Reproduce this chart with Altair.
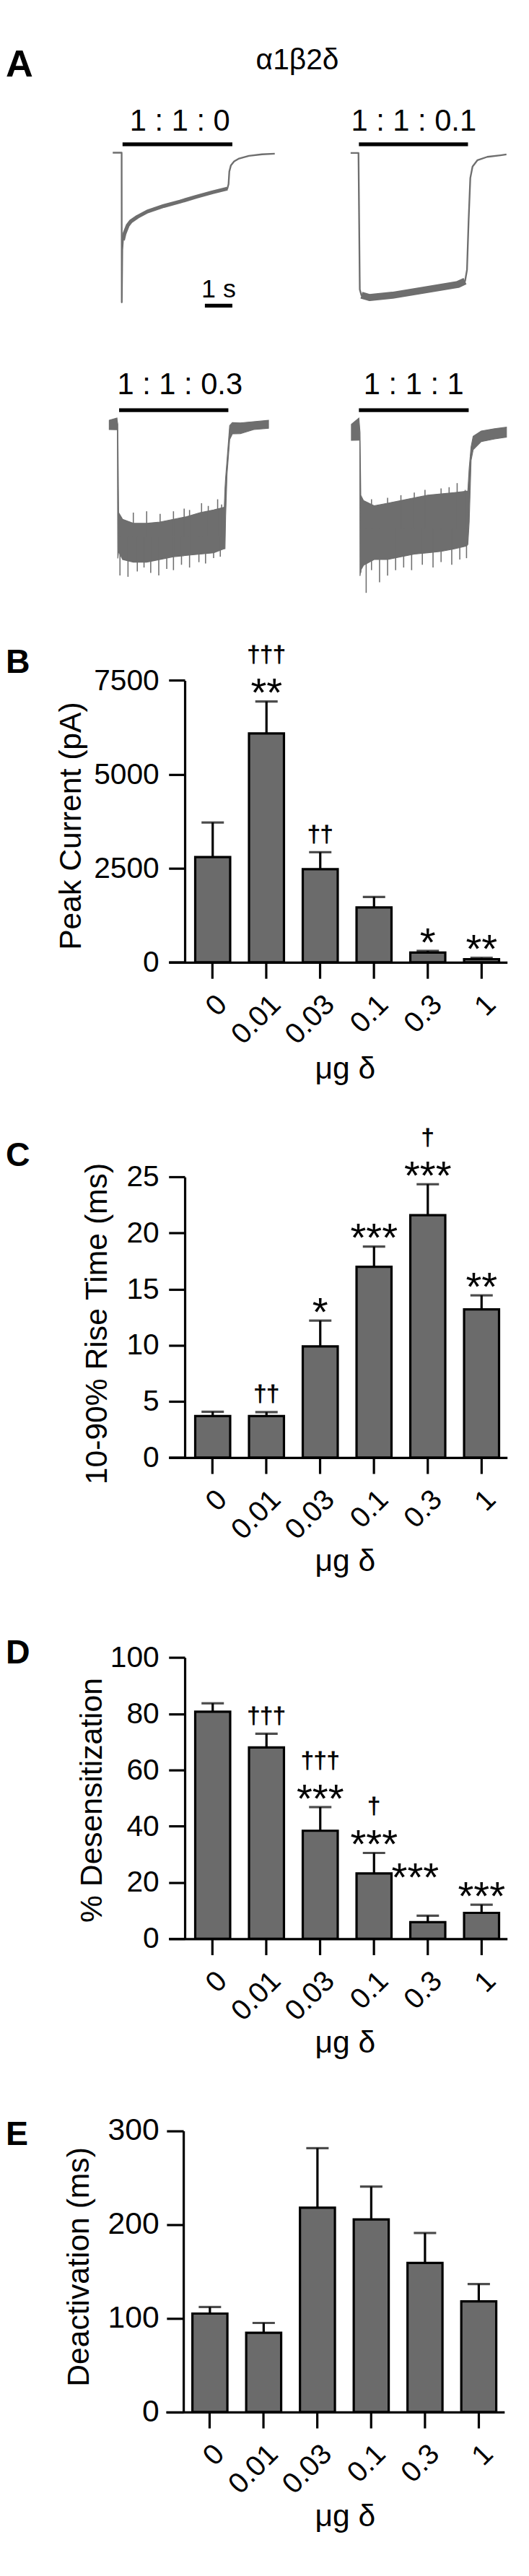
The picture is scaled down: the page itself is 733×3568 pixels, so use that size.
import altair as alt
import pandas as pd

FONT = "Liberation Sans"
BAR_GREY = "#6b6b6b"
TRACE_GREY = "#6e6e6e"
LW = 3.3

# ------------------------------------------------------------------ data
doses = ["0", "0.01", "0.03", "0.1", "0.3", "1"]

# B  peak current (pA)
peak_mean = [2800, 6090, 2480, 1460, 260, 85]
peak_sem = [920, 850, 450, 280, 45, 35]
peak_stars = ["", "**", "", "", "*", "**"]
peak_daggers = ["", "†††", "††", "", "", ""]

# C  10-90% rise time (ms)
rise_mean = [3.7, 3.7, 9.9, 17.0, 21.6, 13.2]
rise_sem = [0.38, 0.35, 2.3, 1.8, 2.75, 1.25]
rise_stars = ["", "", "*", "***", "***", "**"]
rise_daggers = ["", "††", "", "", "†", ""]

# D  % desensitization
desens_mean = [80.7, 68.0, 38.4, 23.2, 5.9, 9.2]
desens_sem = [3.0, 4.9, 8.4, 7.3, 2.3, 2.9]
desens_stars = ["", "", "***", "***", "***", "***"]
desens_daggers = ["", "†††", "†††", "†", "", ""]
desens_star_moved = [False, False, False, False, True, False]

# E  deactivation (ms)
deact_mean = [105, 84.5, 218, 205.5, 159, 118]
deact_sem = [7, 10.5, 63.5, 35, 32, 18.5]
deact_stars = ["", "", "", "", "", ""]
deact_daggers = ["", "", "", "", "", ""]

# A  example traces: time (s, from agonist onset), current normalised to peak
ratios = ["1 : 1 : 0", "1 : 1 : 0.1", "1 : 1 : 0.3", "1 : 1 : 1"]
app_on = [0.0, 0.0, 0.0, 0.0]
app_off = [4.0, 4.0, 4.0, 4.0]
scalebar_t = [3.0, 4.0]

tr1_t = [-0.357, -0.033, -0.028, -0.010, 0.015, 0.043, 0.069, 0.186, 0.306, 0.545, 0.902, 1.498,
         2.092, 2.688, 3.284, 3.819, 3.862, 3.890, 3.949, 4.066, 4.247, 4.604, 5.080, 5.546]
tr1_i = [0.0, 0.0, -1.0, -0.650, -0.584, -0.563, -0.541, -0.487, -0.458, -0.428, -0.393, -0.356,
         -0.327, -0.294, -0.264, -0.240, -0.210, -0.126, -0.084, -0.058, -0.039, -0.021, -0.011, -0.007]

tr2_t = [-0.303, -0.015, 0.033, 0.092, 0.392, 1.231, 2.431, 3.628, 3.892, 3.964, 4.023, 4.085,
         4.167, 4.349, 4.708, 5.187, 5.410]
tr2_i = [0.0, 0.0, -0.952, -0.992, -1.008, -0.992, -0.955, -0.917, -0.894, -0.815, -0.471, -0.175,
         -0.095, -0.050, -0.027, -0.016, -0.010]

tr3_t = [-0.361, -0.079, -0.064, -0.049, -0.018, 0.128, 0.520, 1.009, 1.501, 1.990, 2.481, 2.968,
         3.460, 3.851, 3.877, 3.900, 3.951, 4.049, 4.146, 4.440, 4.930, 5.470]
tr3_up = [0.032, 0.051, 0.018, 0.000, -0.744, -0.800, -0.834, -0.834, -0.823, -0.800, -0.778, -0.744,
          -0.722, -0.699, -0.541, -0.453, -0.306, -0.012, 0.012, 0.010, 0.021, 0.032]
tr3_lo = [-0.046, -0.047, -0.047, -1.129, -1.071, -1.138, -1.161, -1.161, -1.138, -1.115, -1.104, -1.093,
          -1.082, -1.048, -1.047, -0.776, -0.424, -0.129, -0.082, -0.080, -0.046, -0.035]
tr3_spike_t = [0.031, 0.325, 0.666, 0.912, 1.157, 1.452, 1.744, 1.990, 2.284, 2.579, 2.922, 3.165, 3.460, 3.705,
               0.520, 1.009, 1.501, 1.990, 2.382, 2.579, 3.019, 3.265, 3.608, 3.754]
tr3_spike_tip = [-1.273, -1.284, -1.239, -1.206, -1.251, -1.273, -1.217, -1.228, -1.183, -1.206, -1.161, -1.172,
                 -1.127, -1.115,
                 -0.744, -0.733, -0.755, -0.733, -0.711, -0.722, -0.665, -0.688, -0.632, -0.676]

tr4_t = [-0.273, 0.000, 0.031, 0.041, 0.069, 0.166, 0.555, 1.045, 1.531, 2.018, 2.507, 2.994, 3.480,
         3.921, 3.969, 4.018, 4.087, 4.163, 4.456, 4.943, 5.376]
tr4_up = [0.081, 0.142, 0.034, 0.000, -0.618, -0.671, -0.723, -0.697, -0.671, -0.644, -0.618, -0.605,
          -0.592, -0.579, -0.579, -0.354, -0.143, -0.037, 0.015, 0.037, 0.052]
tr4_lo = [-0.077, -0.076, -0.076, -1.414, -1.357, -1.310, -1.252, -1.252, -1.225, -1.199, -1.186, -1.172,
          -1.146, -1.119, -1.103, -0.882, -0.275, -0.170, -0.090, -0.064, -0.045]
tr4_spike_t = [0.069, 0.265, 0.459, 0.752, 1.045, 1.338, 1.631, 1.921, 2.311, 2.701, 2.994, 3.383, 3.676, 3.921,
               0.459, 1.045, 1.531, 2.018, 2.408, 2.994, 3.287, 3.580, 3.873]
tr4_spike_tip = [-1.383, -1.581, -1.357, -1.476, -1.410, -1.357, -1.331, -1.357, -1.304, -1.331, -1.278, -1.304,
                 -1.252, -1.239,
                 -0.658, -0.644, -0.618, -0.592, -0.566, -0.552, -0.539, -0.499, -0.566]


# ------------------------------------------------------------------ panel A
def qs(dom, rng):
    return alt.Scale(domain=dom, range=rng, nice=False, zero=False)


def app_bar(k, sx, ypx):
    d = pd.DataFrame({"t0": [app_on[k]], "t1": [app_off[k]]})
    return alt.Chart(d).mark_rule(color="black", strokeWidth=5.5).encode(
        x=alt.X("t0:Q", scale=sx, axis=None), x2="t1:Q", y=alt.value(ypx))


def ratio_label(k, xpx, ypx):
    d = pd.DataFrame({"lab": [ratios[k]]})
    return alt.Chart(d).mark_text(font=FONT, fontSize=43, align="center", baseline="alphabetic",
                                  color="black").encode(x=alt.value(xpx), y=alt.value(ypx), text="lab:N")


def smooth_trace(t, cur, b0, b1, bw, sx, sy):
    d = pd.DataFrame({"t": t, "i": cur})
    enc = dict(x=alt.X("t:Q", scale=sx, axis=None), y=alt.Y("i:Q", scale=sy, axis=None))
    thin = alt.Chart(d).mark_line(color=TRACE_GREY, strokeWidth=2.4, strokeJoin="round").encode(**enc)
    body = alt.Chart(d.iloc[b0:b1 + 1]).mark_line(color=TRACE_GREY, strokeWidth=bw,
                                                   strokeCap="butt", strokeJoin="round").encode(**enc)
    return [thin, body]


def noisy_trace(t, up, lo, sp_t, sp_tip, base_val, sx, sy):
    d = pd.DataFrame({"t": t, "up": up, "lo": lo})
    area = alt.Chart(d).mark_area(color=TRACE_GREY, stroke=TRACE_GREY, strokeWidth=1.2).encode(
        x=alt.X("t:Q", scale=sx, axis=None), y=alt.Y("up:Q", scale=sy, axis=None), y2="lo:Q")
    s = pd.DataFrame({"t": sp_t, "tip": sp_tip})
    spikes = alt.Chart(s).transform_calculate(base=str(base_val)).mark_rule(
        color=TRACE_GREY, strokeWidth=1.6).encode(
        x=alt.X("t:Q", scale=sx, axis=None), y=alt.Y("tip:Q", scale=sy, axis=None), y2="base:Q")
    return [area, spikes]


sx1 = qs([0, 4], [-89, 68]);     sy1 = qs([-1, 0], [366, 152])
sx2 = qs([0, 4], [249, 405]);    sy2 = qs([-1, 0], [357.4, 152.4])
sx3 = qs([0, 4], [-93.9, 62.3]); sy3 = qs([-1, 0], [710, 540])
sx4 = qs([0, 4], [249, 406]);    sy4 = qs([-1, 0], [697, 552])

sb = pd.DataFrame({"t0": [scalebar_t[0]], "t1": [scalebar_t[1]],
                   "tm": [(scalebar_t[0] + scalebar_t[1]) / 2], "lab": ["1 s"]})
scale_bar = alt.Chart(sb).mark_rule(color="black", strokeWidth=5.5).encode(
    x=alt.X("t0:Q", scale=sx1, axis=None), x2="t1:Q", y=alt.value(370.7))
scale_txt = alt.Chart(sb).mark_text(font=FONT, fontSize=37, align="center", baseline="alphabetic",
                                    color="black").encode(
    x=alt.X("tm:Q", scale=sx1, axis=None), y=alt.value(359), text="lab:N")

g1 = alt.layer(*smooth_trace(tr1_t, tr1_i, 4, 15, 5.5, sx1, sy1),
               app_bar(0, sx1, 140), ratio_label(0, -7, 120.6), scale_bar, scale_txt)
g2 = alt.layer(*smooth_trace(tr2_t, tr2_i, 3, 8, 10, sx2, sy2),
               app_bar(1, sx2, 140), ratio_label(1, 327.4, 120.6))
g3 = alt.layer(*noisy_trace(tr3_t, tr3_up, tr3_lo, tr3_spike_t, tr3_spike_tip, -0.95, sx3, sy3),
               app_bar(2, sx3, 520), ratio_label(2, -7, 497.5))
g4 = alt.layer(*noisy_trace(tr4_t, tr4_up, tr4_lo, tr4_spike_t, tr4_spike_tip, -0.95, sx4, sy4),
               app_bar(3, sx4, 520), ratio_label(3, 327.4, 497.5))

a_text = pd.DataFrame({"L": ["A"], "T": ["α1β2δ"]})
a_letter = alt.Chart(a_text).mark_text(font=FONT, fontSize=54, fontWeight="bold", align="left",
                                       baseline="top", color="black").encode(
    x=alt.value(-256), y=alt.value(0), text="L:N")
a_title = alt.Chart(a_text).mark_text(font=FONT, fontSize=42, align="center", baseline="top",
                                      color="black").encode(
    x=alt.value(161), y=alt.value(0), text="T:N")

panel_a = alt.layer(g1, g2, g3, g4, a_letter, a_title).resolve_scale(
    x="independent", y="independent").properties(width=465, height=792)


# ------------------------------------------------------------------ bar panels
def bar_panel(letter, letter_y, means, sems, stars, dags, moved, ticks, ymax, ytitle,
              H, ytop, ytx, yty, xty, xshift=0.0, yoff=0, ytick=23, ylabpad=14, ylabsize=42):
    df = pd.DataFrame({"dose": doses, "mean": means, "sem": sems, "stars": stars,
                       "dag": dags, "moved": moved})
    sx = alt.Scale(domain=doses, range=[-23 + xshift, 461 + xshift],
                   paddingInner=0.35, paddingOuter=0.322, align=0.766)
    sy = alt.Scale(domain=[0, ymax], range=[H, ytop], nice=False, zero=False)
    xax = alt.Axis(title="μg δ", labels=False,
                   tickSize=23, tickWidth=LW, tickColor="black",
                   domainWidth=LW, domainColor="black", grid=False,
                   titleFont=FONT, titleFontSize=44, titleFontWeight="normal", titleColor="black",
                   titleX=229, titleY=xty, titleAlign="center", titleBaseline="alphabetic", titleAngle=0)
    yax = alt.Axis(title=ytitle, values=ticks, format="d", labelFontSize=ylabsize, labelFont=FONT,
                   labelColor="black", labelPadding=ylabpad, labelOverlap=False,
                   tickSize=ytick, tickWidth=LW, tickColor="black",
                   domainWidth=LW, domainColor="black", grid=False, offset=yoff,
                   titleFont=FONT, titleFontSize=44, titleFontWeight="normal", titleColor="black",
                   titleX=ytx, titleY=yty, titleAngle=270, titleAlign="center",
                   titleBaseline="alphabetic")
    X = alt.X("dose:N", sort=doses, scale=sx, axis=xax)
    base = alt.Chart(df).transform_calculate(top="datum.mean + datum.sem")
    bars = base.mark_bar(size=50, fill=BAR_GREY, stroke="black", strokeWidth=LW).encode(
        x=X, y=alt.Y("mean:Q", scale=sy, axis=yax))
    err = base.mark_rule(color="black", strokeWidth=LW).encode(
        x=X, y=alt.Y("mean:Q", scale=sy, axis=yax), y2="top:Q")
    cap = base.mark_tick(color="black", size=32, thickness=LW).encode(
        x=X, y=alt.Y("top:Q", scale=sy, axis=yax))
    # rotated category labels under the ticks
    xlab = base.mark_text(font=FONT, fontSize=41, angle=315, align="right", baseline="top",
                          color="black").encode(x=X, y=alt.value(H + 40), text="dose:N")
    ytop_enc = alt.Y("top:Q", scale=sy, axis=yax)
    st = base.transform_filter("datum.stars != '' && !datum.moved").mark_text(
        font=FONT, fontSize=58, baseline="alphabetic", align="center", dy=7, color="black").encode(
        x=X, y=ytop_enc, text="stars:N")
    st_m = base.transform_filter("datum.moved").mark_text(
        font=FONT, fontSize=58, baseline="alphabetic", align="center", dx=-18, dy=-36,
        color="black").encode(x=X, y=ytop_enc, text="stars:N")
    dg_s = base.transform_filter("datum.dag != '' && datum.stars != ''").mark_text(
        font=FONT, fontSize=33, baseline="alphabetic", align="center", dy=-56, color="black",
        stroke="black", strokeWidth=0.8).encode(x=X, y=ytop_enc, text="dag:N")
    dg_n = base.transform_filter("datum.dag != '' && datum.stars == ''").mark_text(
        font=FONT, fontSize=33, baseline="alphabetic", align="center", dy=-15, color="black",
        stroke="black", strokeWidth=0.8).encode(x=X, y=ytop_enc, text="dag:N")
    let = alt.Chart(pd.DataFrame({"L": [letter]})).mark_text(
        font=FONT, fontSize=48, fontWeight="bold", align="left", baseline="alphabetic",
        color="black").encode(x=alt.value(-256), y=alt.value(letter_y), text="L:N")
    return alt.layer(bars, err, cap, xlab, st, st_m, dg_s, dg_n, let).properties(width=465, height=H)


panel_b = bar_panel("B", 103.6, peak_mean, peak_sem, peak_stars, peak_daggers, [False] * 6,
                    [0, 2500, 5000, 7500], 7500, "Peak Current (pA)",
                    517.4, 114.4, -149, 322, 166)
panel_c = bar_panel("C", 290.1, rise_mean, rise_sem, rise_stars, rise_daggers, [False] * 6,
                    [0, 5, 10, 15, 20, 25], 25, "10-90% Rise Time (ms)",
                    707.3, 306.2, -112, 515.6, 161.3)
panel_d = bar_panel("D", 293.5, desens_mean, desens_sem, desens_stars, desens_daggers, desens_star_moved,
                    [0, 20, 40, 60, 80, 100], 100, "% Desensitization",
                    687.2, 285.1, -119.5, 488.7, 162.7)
panel_e = bar_panel("E", 293.7, deact_mean, deact_sem, deact_stars, deact_daggers, [False] * 6,
                    [0, 100, 200, 300], 300, "Deactivation (ms)",
                    675.7, 273.8, -135.5, 467.9, 162.4,
                    xshift=-4, yoff=2, ytick=24, ylabpad=11, ylabsize=44)

chart = alt.vconcat(panel_a, panel_b, panel_c, panel_d, panel_e, spacing=0, bounds="flush").properties(
    padding=0, background="white").configure_view(stroke=None)

chart.save("out.html", embed_options={"renderer": "svg", "actions": False})
